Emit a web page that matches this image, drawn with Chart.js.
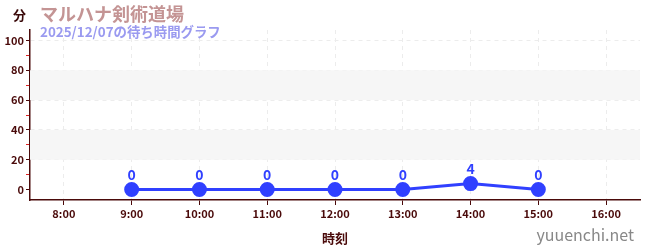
<!DOCTYPE html>
<html>
<head>
<meta charset="utf-8">
<script src="https://cdn.jsdelivr.net/npm/chart.js@4/dist/chart.umd.min.js"></script>
<style>
  body { margin: 0; background: #fff; font-family: "Noto Sans CJK JP", "Noto Sans", sans-serif; }
  #wrap { position: relative; width: 650px; height: 250px; }
  .txt { position: absolute; white-space: nowrap; font-weight: bold; }
  #unit { left: 13px; top: 5px; font-size: 13px; color: #3a0a0a; }
  #title { left: 40px; top: 0px; font-size: 18px; color: #c49494; }
  #sub { left: 40px; top: 21px; font-size: 13.4px; color: #9a9af0; }
  #site { right: 16px; top: 222px; font-size: 16px; color: #888; font-weight: normal; }
</style>
</head>
<body>
<div id="wrap">
  <canvas id="myChart" width="650" height="250"></canvas>
  <div class="txt" id="unit">分</div>
  <div class="txt" id="title">マルハナ剣術道場</div>
  <div class="txt" id="sub">2025/12/07の待ち時間グラフ</div>
  <div class="txt" id="site">yuuenchi.net</div>
</div>
<script>
const hours = ["8:00", "9:00", "10:00", "11:00", "12:00", "13:00", "14:00", "15:00", "16:00"];
const waitTimes = [null, 0, 0, 0, 0, 0, 4, 0, null];
const yTicks = [0, 20, 40, 60, 80, 100];
const bands = [[20, 40], [60, 80]];

const axisColor = "#4a0a0a";
const lineColor = "#3040ff";

const bandPlugin = {
  id: "bands",
  beforeDatasetsDraw(chart) {
    const { ctx, chartArea, scales } = chart;
    ctx.save();
    ctx.fillStyle = "#f6f6f6";
    bands.forEach(b => {
      const y1 = scales.y.getPixelForValue(b[1]);
      const y0 = scales.y.getPixelForValue(b[0]);
      ctx.fillRect(chartArea.left, y1, chartArea.right - chartArea.left, y0 - y1);
    });
    ctx.restore();
  },
  afterDatasetsDraw(chart) {
    const { ctx } = chart;
    const meta = chart.getDatasetMeta(0);
    ctx.save();
    ctx.fillStyle = lineColor;
    ctx.font = "bold 14px 'Noto Sans CJK JP', 'Noto Sans', sans-serif";
    ctx.textAlign = "center";
    ctx.textBaseline = "bottom";
    meta.data.forEach((pt, i) => {
      if (waitTimes[i] === null) return;
      ctx.fillText(String(waitTimes[i]), pt.x, pt.y - 8);
    });
    ctx.restore();
  }
};

new Chart("myChart", {
  type: "line",
  data: {
    labels: hours,
    datasets: [{
      data: waitTimes,
      borderColor: lineColor,
      backgroundColor: lineColor,
      borderWidth: 3,
      pointRadius: 6,
      pointHoverRadius: 6,
      tension: 0
    }]
  },
  options: {
    responsive: false,
    animation: false,
    layout: { padding: { top: 30, right: 10, left: 0, bottom: 0 } },
    plugins: {
      legend: { display: false },
      tooltip: { enabled: false }
    },
    scales: {
      x: {
        offset: true,
        border: { color: axisColor, width: 1.5, dash: [4, 4] },
        grid: { color: "#ececec", tickColor: axisColor, tickLength: 5, offset: false },
        ticks: { color: axisColor, font: { size: 11, weight: "bold", family: "'Noto Sans CJK JP', 'Noto Sans'" }, padding: 2, maxRotation: 0 },
        title: { display: true, text: "時刻", color: axisColor, font: { size: 13, weight: "bold", family: "'Noto Sans CJK JP'" }, padding: { top: 6 } },
        afterFit(scale) { scale.height = 50; }
      },
      y: {
        min: -7,
        max: 107,
        border: { color: axisColor, width: 1.5, dash: [4, 4] },
        grid: {
          color: ctx => (ctx.tick && ctx.tick.value % 20 === 0 && ctx.tick.value > 0) ? "#ececec" : "rgba(0,0,0,0)",
          tickColor: ctx => (ctx.tick && ctx.tick.value % 20 === 0) ? axisColor : "#dd2222",
          tickLength: 4
        },
        afterBuildTicks(scale) {
          const t = [];
          for (let v = 0; v <= 100; v += 10) t.push({ value: v });
          scale.ticks = t;
        },
        ticks: {
          color: axisColor,
          font: { size: 11, weight: "bold", family: "'Noto Sans CJK JP', 'Noto Sans'" },
          padding: 2,
          autoSkip: false,
          callback: v => yTicks.includes(v) ? String(v) : ""
        },
        afterFit(scale) { scale.width = 30; }
      }
    }
  },
  plugins: [bandPlugin]
});
</script>
</body>
</html>
